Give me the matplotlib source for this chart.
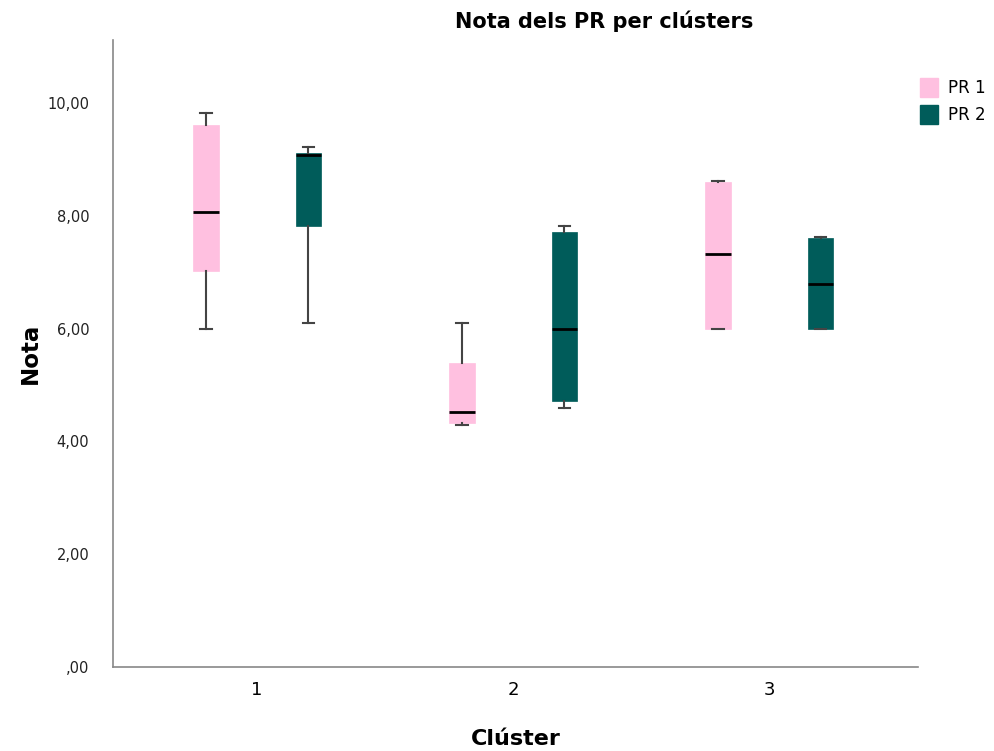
import matplotlib.pyplot as plt
from matplotlib.patches import Patch
from matplotlib.ticker import FuncFormatter

plt.rcParams['font.family'] = ['DejaVu Sans']

clusters = ['1', '2', '3']
series = ['PR 1', 'PR 2']
colors = ['#FFC0E0', '#005C5A']

# box stats: whislo, q1, med, q3, whishi
pr1_whislo = [6.00, 4.30, 6.00]
pr1_q1 = [7.02, 4.33, 6.00]
pr1_med = [8.07, 4.52, 7.32]
pr1_q3 = [9.62, 5.40, 8.60]
pr1_whishi = [9.82, 6.10, 8.62]

pr2_whislo = [6.10, 4.60, 6.00]
pr2_q1 = [7.82, 4.72, 6.00]
pr2_med = [9.08, 6.00, 6.80]
pr2_q3 = [9.11, 7.71, 7.60]
pr2_whishi = [9.22, 7.82, 7.62]


def make_stats(lo, q1, med, q3, hi):
    return [dict(whislo=a, q1=b, med=c, q3=d, whishi=e, fliers=[])
            for a, b, c, d, e in zip(lo, q1, med, q3, hi)]


stats = [make_stats(pr1_whislo, pr1_q1, pr1_med, pr1_q3, pr1_whishi),
         make_stats(pr2_whislo, pr2_q1, pr2_med, pr2_q3, pr2_whishi)]

fig = plt.figure(figsize=(9.95, 7.51), dpi=100)
ax = fig.add_axes([0.1136, 0.1119, 0.8090, 0.8348])

offsets = [-0.2, 0.2]
for s, off, col in zip(stats, offsets, colors):
    pos = [i + 1 + off for i in range(len(clusters))]
    ax.bxp(s, positions=pos, widths=0.1, patch_artist=True, showfliers=False,
           boxprops=dict(facecolor=col, edgecolor=col, linewidth=0.5),
           medianprops=dict(color='black', linewidth=2),
           whiskerprops=dict(color='#444444', linewidth=1.5),
           capprops=dict(color='#444444', linewidth=1.5),
           capwidths=0.045, manage_ticks=False)

ax.set_xlim(0.4375, 3.58)
ax.set_ylim(0, 11.12)
ax.set_xticks([1, 2, 3])
ax.set_xticklabels(clusters, fontsize=13)
ax.set_yticks([0, 2, 4, 6, 8, 10])


def fmt(v, pos):
    s = f'{v:.2f}'.replace('.', ',')
    if s.startswith('0'):
        s = s[1:]
    return s


ax.yaxis.set_major_formatter(FuncFormatter(fmt))
ax.tick_params(axis='y', length=0, labelsize=10.5, pad=17, labelcolor='#222222')
ax.tick_params(axis='x', length=0, pad=10)

for sp in ['top', 'right']:
    ax.spines[sp].set_visible(False)
for sp in ['left', 'bottom']:
    ax.spines[sp].set_color('#888888')
    ax.spines[sp].set_linewidth(1.2)

ax.set_xlabel('Clúster', fontsize=16, fontweight='bold', labelpad=22)
ax.set_ylabel('Nota', fontsize=16.5, fontweight='bold', labelpad=4)

fig.text(0.607, 0.972, 'Nota dels PR per clústers', ha='center', va='center',
         fontsize=15, fontweight='bold')

handles = [Patch(facecolor=c, edgecolor=c, label=l) for c, l in zip(colors, series)]
fig.legend(handles=handles, loc='upper left', bbox_to_anchor=(0.918, 0.905),
           frameon=False, fontsize=12, handlelength=1.1, handleheight=1.4,
           handletextpad=0.6, labelspacing=0.45, borderaxespad=0)

fig.savefig('out.png', dpi=100)
